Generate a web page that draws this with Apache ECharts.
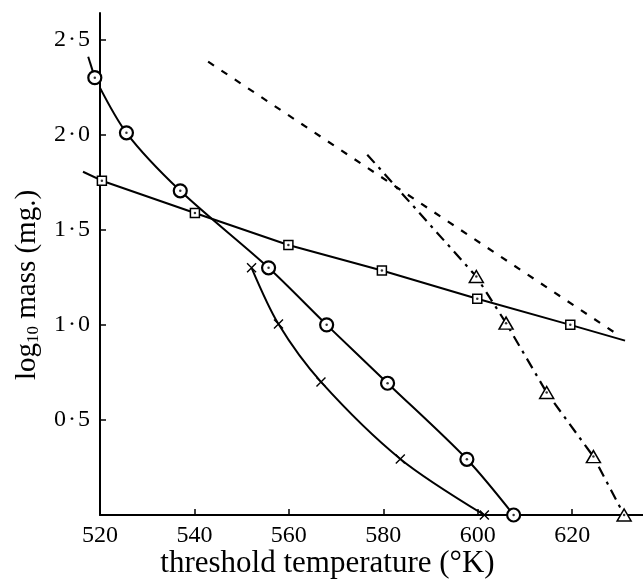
<!DOCTYPE html>
<html>
<head>
<meta charset="utf-8">
<script src="https://cdn.jsdelivr.net/npm/echarts@6/dist/echarts.min.js"></script>
<style>html,body{margin:0;background:#fff}#main{width:643px;height:581px}</style>
</head>
<body>
<div id="main"></div>
<script>
// circles
var circleT=[518.9,525.6,537,555.7,568,580.9,597.7,607.6];
var circleV=[2.30,2.01,1.705,1.30,1.0,0.693,0.293,0];
// squares
var squareT=[520.4,540.1,559.9,579.7,599.9,619.6];
var squareV=[1.758,1.588,1.42,1.286,1.137,1.0];
// crosses
var crossT=[552.1,557.8,566.8,583.6,601.4];
var crossV=[1.30,1.004,0.70,0.295,0];
// triangles
var triT=[599.7,606,614.6,624.5,631];
var triV=[1.254,1.009,0.644,0.307,0];
// where lines run on past the markers
var circleStart=[517.5,2.41];
var squareStart=[516.4,1.805];
var squareEnd=[631.2,0.917];
var triStart=[576.6,1.895];
// the plain dashed line
var dashT=[542.9,629.2];
var dashV=[2.384,0.956];

var xLabels=[520,540,560,580,600,620];
var xTicks=[540,560,580,600,620];
var yTicks=[0.5,1.0,1.5,2.0,2.5];

var serif='"Liberation Serif","DejaVu Serif",serif';

function pairs(t,v){
  var out=[];
  for(var i=0;i<t.length;i++){
    out.push([t[i],v[i]]);
  }
  return out;
}
function bare(p){
  return {value:p,symbol:'none'};
}

var myChart=echarts.init(document.getElementById('main'));

var circleData=pairs(circleT,circleV);
var squareData=pairs(squareT,squareV).concat([bare(squareEnd)]);
var crossData=pairs(crossT,crossV);
var triData=[bare(triStart)].concat(pairs(triT,triV));
var dots=pairs(circleT,circleV).concat(pairs(squareT,squareV)).concat(pairs(triT,triV));
// bits of line left of the y axis (the line series gets cut at the grid)
var stubs=[
  circleStart.concat([circleT[0],circleV[0]]),
  squareStart.concat([squareT[0],squareV[0]])
];

var option={
  animation:false,
  grid:{left:100,right:0,top:13,bottom:66,outerBoundsMode:'none'},
  xAxis:{
    type:'value',
    min:520,
    max:635,
    interval:20,
    splitLine:{show:false},
    axisLine:{lineStyle:{color:'#000',width:2}},
    axisTick:{inside:true,length:6,lineStyle:{color:'#000',width:1.5},customValues:xTicks},
    axisLabel:{color:'#000',fontFamily:serif,fontSize:24,margin:9,customValues:xLabels},
    name:'threshold temperature (°K)',
    nameLocation:'middle',
    nameGap:33,
    nameMoveOverlap:false,
    nameTextStyle:{color:'#000',fontFamily:serif,fontSize:31,padding:[0,88,0,0]}
  },
  yAxis:{
    type:'value',
    min:0,
    max:2.64,
    interval:0.5,
    splitLine:{show:false},
    axisLine:{lineStyle:{color:'#000',width:2}},
    axisTick:{inside:true,length:6,lineStyle:{color:'#000',width:1.5},customValues:yTicks},
    axisLabel:{
      color:'#000',fontFamily:serif,fontSize:24,margin:10,customValues:yTicks,
      formatter:function(v){return v.toFixed(1).replace('.','\u200a·\u200a');}
    },
    name:'{a|log}{s|10}{a| mass (mg.)}',
    nameLocation:'middle',
    nameGap:58,
    nameMoveOverlap:false,
    nameTextStyle:{
      color:'#000',fontFamily:serif,fontSize:29,padding:[0,42,0,0],
      rich:{
        a:{fontFamily:serif,fontSize:29,color:'#000'},
        s:{fontFamily:serif,fontSize:17,color:'#000',padding:[12,0,0,0]}
      }
    }
  },
  series:[
    {
      type:'line',
      data:pairs(dashT,dashV),
      symbol:'none',
      clip:false,
      lineStyle:{color:'#000',width:2.2,type:[7,9]}
    },
    {
      type:'line',
      data:triData,
      symbol:'triangle',
      symbolSize:[14,12],
      clip:false,
      itemStyle:{color:'#fff',borderColor:'#000',borderWidth:1.5},
      lineStyle:{color:'#000',width:2.2,type:[11,6,3,6]}
    },
    {
      type:'line',
      data:squareData,
      symbol:'rect',
      symbolSize:9,
      clip:false,
      itemStyle:{color:'#fff',borderColor:'#000',borderWidth:1.5},
      lineStyle:{color:'#000',width:2}
    },
    {
      type:'line',
      data:crossData,
      smooth:0.3,
      symbol:'path://M0,0L10,10M10,0L0,10',
      symbolSize:9,
      clip:false,
      itemStyle:{color:'none',borderColor:'#000',borderWidth:1.4},
      lineStyle:{color:'#000',width:2}
    },
    {
      type:'line',
      data:circleData,
      smooth:0.3,
      symbol:'circle',
      symbolSize:13,
      clip:false,
      itemStyle:{color:'#fff',borderColor:'#000',borderWidth:2.2},
      lineStyle:{color:'#000',width:2}
    },
    {
      type:'custom',
      data:stubs,
      encode:{x:[0,2],y:[1,3]},
      z:1,
      renderItem:function(params,api){
        var a=api.coord([api.value(0),api.value(1)]);
        var b=api.coord([api.value(2),api.value(3)]);
        return {
          type:'line',
          shape:{x1:a[0],y1:a[1],x2:b[0],y2:b[1]},
          style:{stroke:'#000',lineWidth:2}
        };
      }
    },
    {
      type:'scatter',
      data:dots,
      symbol:'circle',
      symbolSize:2.5,
      clip:false,
      z:5,
      itemStyle:{color:'#000'}
    }
  ]
};
myChart.setOption(option);
</script>
</body>
</html>
